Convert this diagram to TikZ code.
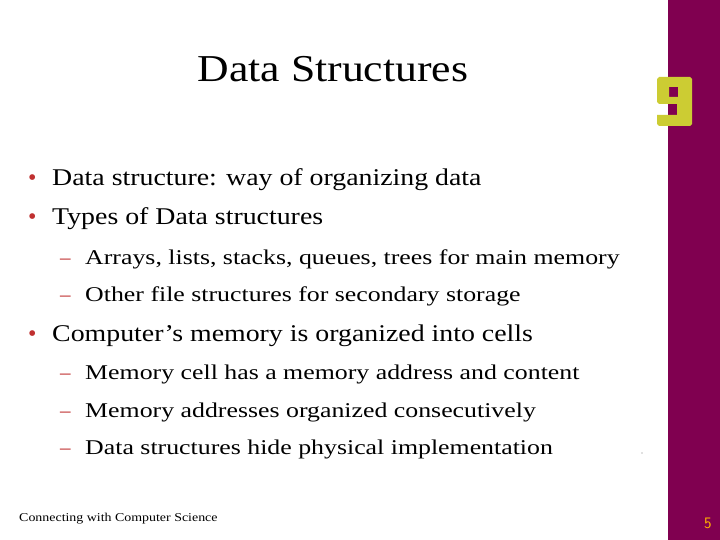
\documentclass[tikz,border=0pt]{standalone}
\usepackage{fontspec}
\setmainfont{Liberation Serif}
\begin{document}
\begin{tikzpicture}[x=1pt,y=-1pt,
  txt/.style={anchor=base west,inner sep=0pt,xscale=1.16},
  stxt/.style={anchor=base west,inner sep=0pt,xscale=1.23},
  bul/.style={anchor=base west,inner sep=0pt,text=bulc}]
\definecolor{barc}{HTML}{800050}
\definecolor{ninec}{HTML}{CCCC33}
\definecolor{bulc}{HTML}{C03030}
\useasboundingbox (0,0) rectangle (720,540);
\fill[white] (0,0) rectangle (720,540);
\fill[barc] (668,0) rectangle (720,540);
\fill[ninec,even odd rule] (657,79) -- (659,77) -- (690,77) -- (692,79) -- (692,124) -- (690,126) -- (659,126) -- (657,124) -- (657,115) -- (677,115) -- (677,104) -- (659,104) -- (657,102) -- cycle
  (669,87) rectangle (678,97);
\node[anchor=base,inner sep=0pt,xscale=1.15,font=\fontsize{38}{40}\selectfont] (title) at (333,82) {Data Structures};
\begin{scope}[font=\fontsize{24}{26}\selectfont]
\node[bul] (b1) at (28,186) {•};
\node[txt] (t1) at (52,186) {Data structure: way of organizing data};
\node[bul] (b2) at (28,225) {•};
\node[txt] (t2) at (52,225) {Types of Data structures};
\node[bul] (b3) at (28,341) {•};
\node[txt] (t3) at (52,341) {Computer’s memory is organized into cells};
\end{scope}
\begin{scope}[font=\fontsize{21}{23}\selectfont]
\node[bul] (d1) at (60,264) {–};
\node[stxt] (s1) at (85,264) {Arrays, lists, stacks, queues, trees for main memory};
\node[bul] (d2) at (60,301) {–};
\node[stxt] (s2) at (85,301) {Other file structures for secondary storage};
\node[bul] (d3) at (60,379) {–};
\node[stxt] (s3) at (85,379) {Memory cell has a memory address and content};
\node[bul] (d4) at (60,417) {–};
\node[stxt] (s4) at (85,417) {Memory addresses organized consecutively};
\node[bul] (d5) at (60,454) {–};
\node[stxt] (s5) at (85,454) {Data structures hide physical implementation};
\end{scope}
\fill[gray] (642,453) circle (0.6);
\node[txt,font=\fontsize{12}{14}\selectfont] (foot) at (19,521) {Connecting with Computer Science};
\node[anchor=base west,inner sep=0pt,font=\sffamily\fontsize{16}{18}\selectfont,text=orange!60!yellow] (pg) at (704,528) {5};
\end{tikzpicture}
\end{document}
